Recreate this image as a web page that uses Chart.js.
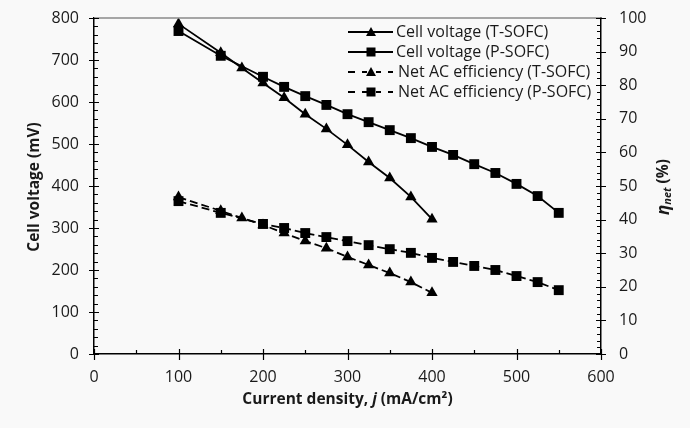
<!DOCTYPE html>
<html><head><meta charset="utf-8">
<script src="https://cdn.jsdelivr.net/npm/chart.js@4/dist/chart.umd.min.js"></script>
<style>html,body{margin:0;padding:0;background:#f9f9f9;} #wrap{width:690px;height:428px;position:relative;}</style>
</head><body><div id="wrap"><canvas id="c" width="690" height="428"></canvas></div>
<script>
// ---- data ----
const tJ = [100,150,175,200,225,250,275,300,325,350,375,400];
const tVoltage = [786,717,681,645,610,571,536,498,457,419,374,321];
const tEff = [46.7,42.6,40.5,38.4,36.0,33.6,31.5,28.9,26.5,24.1,21.4,18.2];
const pJ = [100,150,200,225,250,275,300,325,350,375,400,425,450,475,500,525,550];
const pVoltage = [769,710,660,636,614,593,571,552,533,514,493,474,452,431,405,376,336];
const pEff = [45.5,42.0,38.7,37.5,36.0,34.8,33.6,32.4,31.2,30.1,28.6,27.4,26.2,25.0,23.2,21.4,19.0];
const seriesLabels = ['Cell voltage (T-SOFC)','Cell voltage (P-SOFC)','Net AC efficiency (T-SOFC)','Net AC efficiency (P-SOFC)'];
const xTitle = ['Current density, ', 'j', ' (mA/cm²)'];
const yTitle = 'Cell voltage (mV)';
const y1Title = ['η', 'net', ' (%)'];

const FONT = '"Open Sans", sans-serif';
const TXT = '#1a1a1a';
const zip = (xs, ys) => xs.map((x,i)=>({x, y: ys[i]}));

const styles = [
  {pointStyle:'triangle', pointRadius:6.5, dash:[]},
  {pointStyle:'rect', pointRadius:7, dash:[]},
  {pointStyle:'triangle', pointRadius:6.5, dash:[8,4]},
  {pointStyle:'rect', pointRadius:7, dash:[8,4]},
];
const dataSets = [[tJ,tVoltage,'y'],[pJ,pVoltage,'y'],[tJ,tEff,'y1'],[pJ,pEff,'y1']];

const datasets = dataSets.map((d,i)=>({
  label: seriesLabels[i],
  data: zip(d[0], d[1]),
  yAxisID: d[2],
  borderColor:'#000', backgroundColor:'#000',
  borderWidth:1.8, borderDash: styles[i].dash,
  pointStyle: styles[i].pointStyle, pointRadius: styles[i].pointRadius,
  pointBackgroundColor:'#000', pointBorderColor:'#000', pointBorderWidth:0,
  showLine:true, tension:0, fill:false
}));

const decor = {
  id:'decor',
  beforeDraw(chart){
    const ctx = chart.ctx;
    ctx.save(); ctx.fillStyle='#f9f9f9'; ctx.fillRect(0,0,chart.width,chart.height); ctx.restore();
  },
  afterDraw(chart){
    const ctx = chart.ctx, a = chart.chartArea;
    const sx = chart.scales.x, sy = chart.scales.y, sy1 = chart.scales.y1;
    ctx.save();
    ctx.strokeStyle='#8a8a8a'; ctx.lineWidth=1.5;
    ctx.beginPath(); ctx.moveTo(a.left, a.top); ctx.lineTo(a.right, a.top); ctx.stroke();
    ctx.strokeStyle='#000'; ctx.lineWidth=1.2;
    ctx.beginPath();
    for(let v=0; v<=800; v+=20){
      const y = Math.round(sy.getPixelForValue(v))+0.5;
      const major = v%100===0;
      ctx.moveTo(a.left - (major?5:0), y); ctx.lineTo(a.left + (major?5:4), y);
    }
    for(let v=0; v<=100; v+=2){
      const y = Math.round(sy1.getPixelForValue(v))+0.5;
      const major = v%10===0;
      ctx.moveTo(a.right + (major?5:0), y); ctx.lineTo(a.right - (major?5:4), y);
    }
    for(let v=0; v<=600; v+=50){
      const x = Math.round(sx.getPixelForValue(v))+0.5;
      const major = v%100===0;
      ctx.moveTo(x, a.bottom + (major?6:0)); ctx.lineTo(x, a.bottom - (major?5:4));
    }
    ctx.stroke();
    ctx.fillStyle = TXT; ctx.textBaseline='middle';
    const parts = [[xTitle[0],'bold 15.5px '+FONT],[xTitle[1],'italic bold 15.5px '+FONT],[xTitle[2],'bold 15.5px '+FONT]];
    let w=0; parts.forEach(p=>{ctx.font=p[1]; w+=ctx.measureText(p[0]).width;});
    let x0 = 347.5 - w/2;
    ctx.textAlign='left';
    parts.forEach(p=>{ctx.font=p[1]; ctx.fillText(p[0], x0, 400); x0+=ctx.measureText(p[0]).width;});
    ctx.save(); ctx.translate(35, 187); ctx.rotate(-Math.PI/2);
    ctx.font='bold 15.5px '+FONT; ctx.textAlign='center'; ctx.fillText(yTitle,0,0); ctx.restore();
    ctx.save(); ctx.translate(664, 187); ctx.rotate(-Math.PI/2);
    const rp = [[y1Title[0],'italic bold 17px '+FONT,0],[y1Title[1],'italic bold 11px '+FONT,4],[y1Title[2],'bold 15.5px '+FONT,0]];
    w=0; rp.forEach(p=>{ctx.font=p[1]; w+=ctx.measureText(p[0]).width;});
    x0=-w/2; ctx.textAlign='left';
    rp.forEach(p=>{ctx.font=p[1]; ctx.fillText(p[0], x0, p[2]); x0+=ctx.measureText(p[0]).width;});
    ctx.restore();
    const rows=[32,52,72,92];
    ctx.font='16px '+FONT; ctx.textAlign='left';
    rows.forEach((ry,i)=>{
      ctx.strokeStyle='#000'; ctx.lineWidth=1.8;
      ctx.beginPath();
      if(i<2){ ctx.moveTo(348,ry); ctx.lineTo(393,ry); }
      else { [[348,355],[362,367],[376,381],[388,393]].forEach(s=>{ctx.moveTo(s[0],ry);ctx.lineTo(s[1],ry);}); }
      ctx.stroke();
      ctx.fillStyle='#000';
      if(i%2===0){
        ctx.beginPath(); ctx.moveTo(371,ry-5); ctx.lineTo(376,ry+4); ctx.lineTo(366,ry+4); ctx.closePath(); ctx.fill();
      } else {
        ctx.fillRect(366.5,ry-4.5,9,9);
      }
      ctx.fillStyle=TXT;
      ctx.fillText(seriesLabels[i], i<2?396:398, ry);
    });
    ctx.restore();
  }
};

new Chart(document.getElementById('c'), {
  type:'line',
  data:{datasets},
  plugins:[decor],
  options:{
    responsive:false, animation:false, devicePixelRatio:1,
    layout:{padding:{top:18,left:0,right:0,bottom:0}},
    plugins:{legend:{display:false}, tooltip:{enabled:false}},
    scales:{
      x:{type:'linear', min:0, max:600,
        ticks:{stepSize:100, color:TXT, font:{family:FONT,size:16}, padding:8},
        grid:{drawOnChartArea:false, drawTicks:true, tickLength:6, color:'transparent'},
        border:{display:true, color:'#000', width:1.5},
        afterFit(s){ s.height = 74; }
      },
      y:{type:'linear', position:'left', min:0, max:800,
        ticks:{stepSize:100, color:TXT, font:{family:FONT,size:16,lineHeight:1}, padding:9},
        grid:{drawOnChartArea:false, tickLength:6, color:'transparent'},
        border:{display:true, color:'#000', width:1.5},
        afterFit(s){ s.width = 94; s.paddingTop = 0; }
      },
      y1:{type:'linear', position:'right', min:0, max:100,
        ticks:{stepSize:10, color:TXT, font:{family:FONT,size:16,lineHeight:1}, padding:12},
        grid:{drawOnChartArea:false, tickLength:6, color:'transparent'},
        border:{display:true, color:'#000', width:1.5},
        afterFit(s){ s.width = 89; s.paddingTop = 0; }
      }
    }
  }
});
</script></body></html>
